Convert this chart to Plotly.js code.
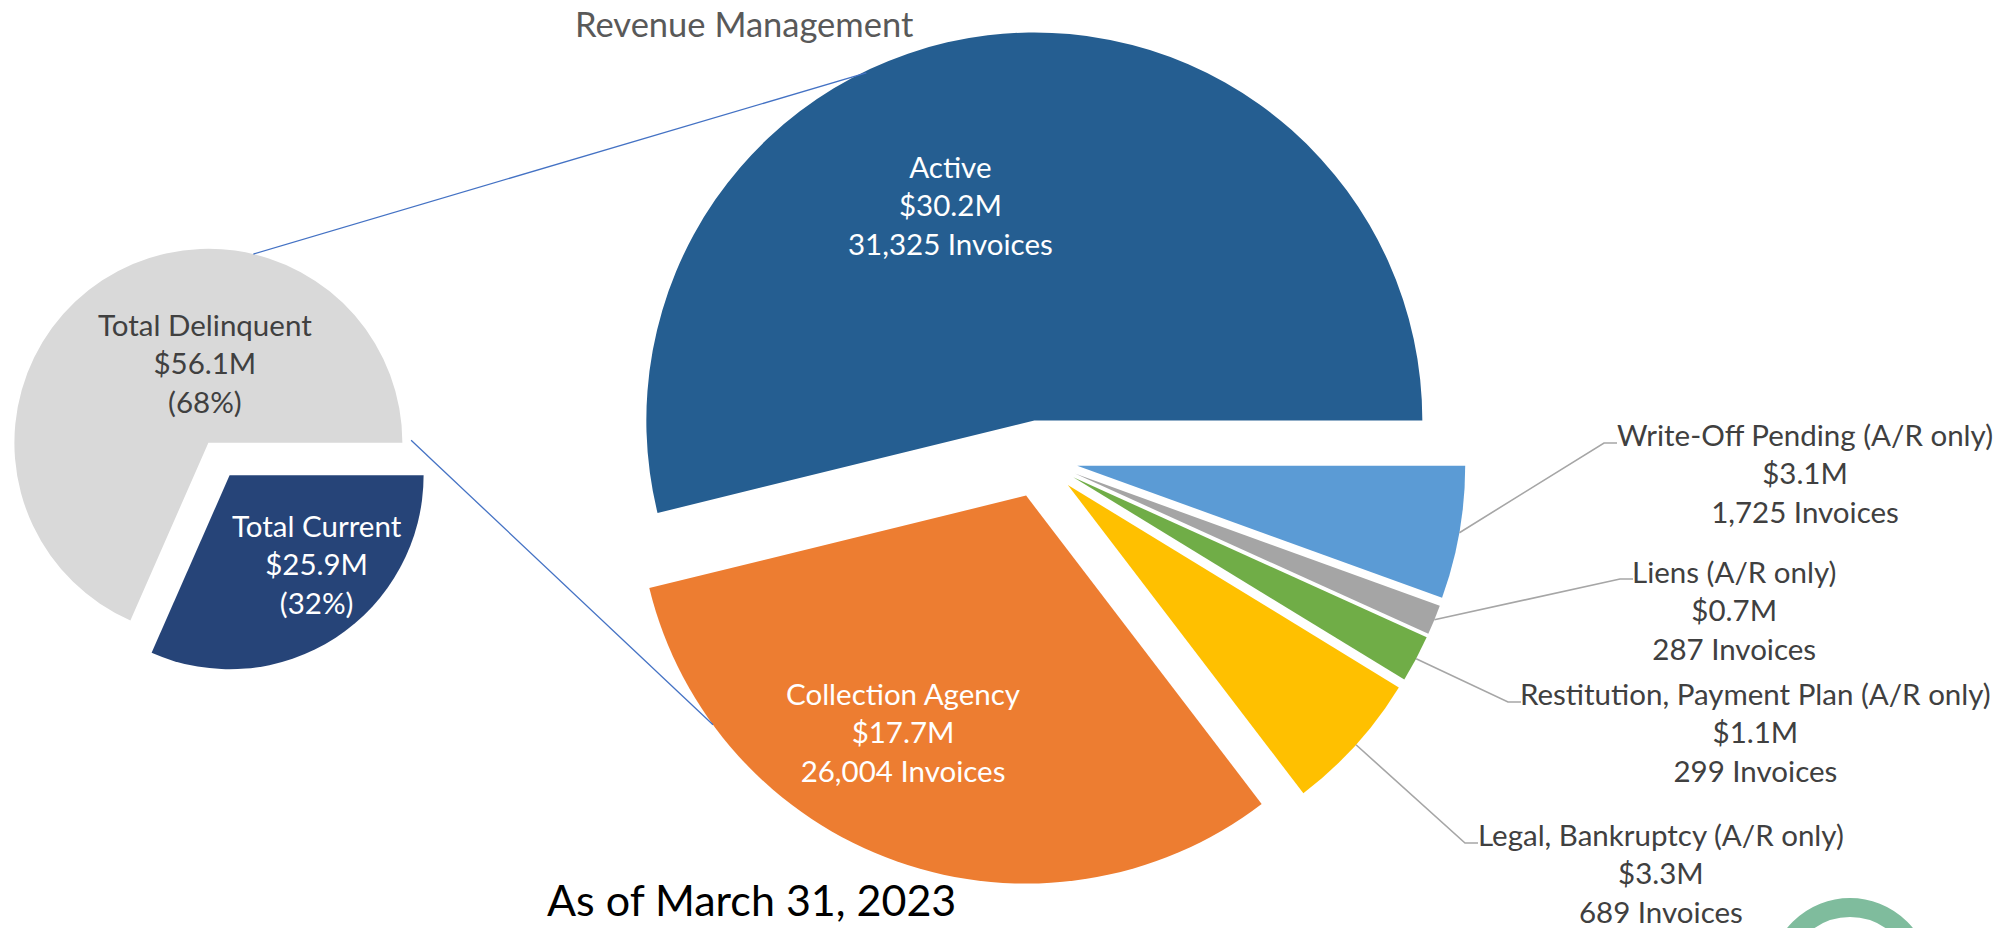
<!DOCTYPE html>
<html>
<head>
<meta charset="utf-8">
<script src="https://cdn.plot.ly/plotly-3.0.1.min.js"></script>
<style>
html,body{margin:0;padding:0;background:#ffffff;}
#chart{width:2002px;height:928px;}
</style>
</head>
<body>
<div id="chart"></div>
<script>
// ---------------- DATA ----------------
const summaryLabels = ['Total Delinquent', 'Total Current'];
const summaryValues = [56.1, 25.9];          // $M
const summaryColors = ['#D9D9D9', '#264478'];

const detailLabels = ['Active', 'Collection Agency', 'Legal, Bankruptcy (A/R only)',
  'Restitution, Payment Plan (A/R only)', 'Liens (A/R only)', 'Write-Off Pending (A/R only)'];
const detailValues = [30.2, 17.7, 3.3, 1.1, 0.7, 3.1];   // $M
const detailInvoices = [31325, 26004, 689, 299, 287, 1725];
const detailColors = ['#255E91', '#ED7D31', '#FFC000', '#70AD47', '#A5A5A5', '#5B9BD5'];

const chartTitle = 'Revenue Management';
const dateNote = 'As of March 31, 2023';

// ---------------- LAYOUT GEOMETRY ----------------
const W = 2002, H = 928;
const FONT = 'Lato, "Open Sans", sans-serif';
const PULL = 0.1;
const small = {cx: 219, cy: 459, r: 194};
const big = {cx: 1039, cy: 459, r: 388};

const X = px => px / W;
const Y = py => 1 - py / H;
const total = arr => arr.reduce((a, b) => a + b, 0);

function domainFor(p) {
  const half = p.r * (1 + PULL);
  return {x: [X(p.cx - half), X(p.cx + half)], y: [Y(p.cy + half), Y(p.cy - half)]};
}
// mid angles (math degrees, counter-clockwise from 3 o'clock)
function midAngles(values) {
  const tot = total(values);
  let acc = 0;
  return values.map(v => { const a = (acc + v / 2) / tot * 360; acc += v; return a; });
}
// plotly rotation so that the first slice starts at 3 o'clock and slices run counter-clockwise
function rotationFor(values) {
  return 90 - 360 * values[0] / total(values);
}
function arcPoint(p, mid, deg, f) {
  const d = p.r * PULL;
  const m = mid * Math.PI / 180, a = deg * Math.PI / 180;
  const ox = p.cx + d * Math.cos(m), oy = p.cy - d * Math.sin(m);
  return [ox + p.r * f * Math.cos(a), oy - p.r * f * Math.sin(a)];
}

const fmtM = v => '$' + v.toFixed(1) + 'M';
const fmtInv = n => n.toLocaleString('en-US') + ' Invoices';
const sumTot = total(summaryValues);

const smallMid = midAngles(summaryValues);
const bigMid = midAngles(detailValues);

// ---------------- TRACES ----------------
const traces = [
  {
    type: 'pie', labels: summaryLabels, values: summaryValues,
    marker: {colors: summaryColors, line: {width: 0}},
    sort: false, direction: 'counterclockwise', rotation: rotationFor(summaryValues),
    pull: summaryValues.map(() => PULL),
    textinfo: 'none', hoverinfo: 'label+value', showlegend: false,
    domain: domainFor(small)
  },
  {
    type: 'pie', labels: detailLabels, values: detailValues,
    marker: {colors: detailColors, line: {width: 0}},
    sort: false, direction: 'counterclockwise', rotation: rotationFor(detailValues),
    pull: detailValues.map(() => PULL),
    textinfo: 'none', hoverinfo: 'label+value', showlegend: false,
    domain: domainFor(big)
  }
];

// ---------------- ANNOTATIONS ----------------
const annotations = [];
const LBL = 29.5;
function addText(px, py, text, color, size) {
  annotations.push({
    xref: 'paper', yref: 'paper', x: X(px), y: Y(py), xanchor: 'center', yanchor: 'middle',
    text: text, showarrow: false, align: 'center',
    font: {family: FONT, size: size || LBL, color: color}
  });
}
addText(744, 24, chartTitle, '#595959', 34.5);
addText(751, 899, dateNote, '#000000', 43);

const smallPos = [[205, 363, '#404040'], [317, 564, '#FFFFFF']];
summaryLabels.forEach((l, i) => {
  const pct = Math.round(summaryValues[i] / sumTot * 100) + '%';
  addText(smallPos[i][0], smallPos[i][1], l + '<br>' + fmtM(summaryValues[i]) + '<br>(' + pct + ')', smallPos[i][2]);
});

const insidePos = {0: [950, 205], 1: [903, 732]};
// outside label blocks: [text center x, middle line y, elbow x, elbow y]
const outsidePos = {
  5: [1805, 473, 1604, 443],
  4: [1734, 610, 1620, 579],
  3: [1755, 732, 1508, 702],
  2: [1661, 873, 1465, 843]
};
const shapes = [];
detailLabels.forEach((l, i) => {
  const txt = l + '<br>' + fmtM(detailValues[i]) + '<br>' + fmtInv(detailInvoices[i]);
  if (insidePos[i]) {
    addText(insidePos[i][0], insidePos[i][1], txt, '#FFFFFF');
  } else {
    const o = outsidePos[i];
    addText(o[0], o[1], txt, '#404040');
    const s = arcPoint(big, bigMid[i], bigMid[i], 1.0);
    shapes.push({
      type: 'path', xref: 'paper', yref: 'paper',
      path: `M ${X(s[0])},${Y(s[1])} L ${X(o[2])},${Y(o[3])} L ${X(o[2] + 13)},${Y(o[3])}`,
      line: {color: '#A6A6A6', width: 1.6}
    });
  }
});

// series connector lines between the two pies
const connectors = [
  {from: [0, 76.6, 1.0], to: [0, 115.8, 0.995]},
  {from: [0, 0.7, 1.045], to: [1, 216.2, 1.0]}
];
connectors.forEach(c => {
  const a = arcPoint(small, smallMid[c.from[0]], c.from[1], c.from[2]);
  const b = arcPoint(big, bigMid[c.to[0]], c.to[1], c.to[2]);
  shapes.push({
    type: 'line', xref: 'paper', yref: 'paper',
    x0: X(a[0]), y0: Y(a[1]), x1: X(b[0]), y1: Y(b[1]),
    line: {color: '#4472C4', width: 1.3}
  });
});

// decorative logo ring (bottom right)
const ring = {cx: 1850, cy: 979, r: 71.5};
shapes.push({
  type: 'circle', xref: 'paper', yref: 'paper',
  x0: X(ring.cx - ring.r), x1: X(ring.cx + ring.r), y0: Y(ring.cy + ring.r), y1: Y(ring.cy - ring.r),
  line: {color: '#7FBC9D', width: 19}, fillcolor: 'rgba(0,0,0,0)'
});

const layout = {
  width: W, height: H,
  margin: {l: 0, r: 0, t: 0, b: 0, pad: 0},
  paper_bgcolor: '#FFFFFF', plot_bgcolor: '#FFFFFF',
  font: {family: FONT},
  showlegend: false,
  annotations: annotations,
  shapes: shapes
};

Plotly.newPlot('chart', traces, layout, {displayModeBar: false, staticPlot: true});
</script>
</body>
</html>
